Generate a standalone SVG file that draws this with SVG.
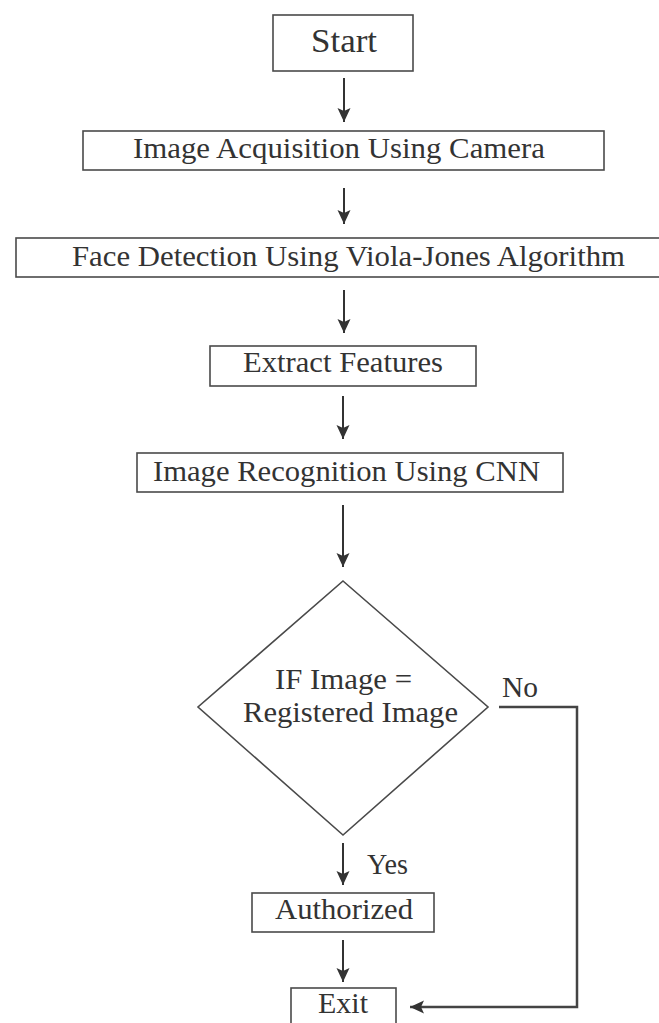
<svg xmlns="http://www.w3.org/2000/svg" width="659" height="1023" viewBox="0 0 659 1023">
<style>
.box{fill:#fff;stroke:#4a4a4a;stroke-width:1.6}
.t{font-family:"Liberation Serif","Times New Roman",Times,serif;font-size:29px;fill:#333}
.ln{stroke:#333;stroke-width:2;fill:none}
.no{stroke:#444;stroke-width:2.5;fill:none}
</style>
<defs>
<marker id="ah" markerUnits="userSpaceOnUse" markerWidth="16" markerHeight="16" refX="14" refY="6.5" orient="auto">
<path d="M0,0 L14,6.5 L0,13 L3,6.5 Z" fill="#333"/>
</marker>
</defs>
<rect width="659" height="1023" fill="#fff"/>
<g id="start">
<rect class="box" x="273" y="15" width="140" height="56"/>
<text class="t" x="311" y="52" style="font-size:33px" textLength="66" lengthAdjust="spacingAndGlyphs">Start</text>
</g>
<g id="acquisition">
<rect class="box" x="83" y="131" width="521" height="39"/>
<text class="t" x="133" y="158" textLength="412" lengthAdjust="spacingAndGlyphs">Image Acquisition Using Camera</text>
</g>
<g id="detection">
<rect class="box" x="16" y="238" width="670" height="39"/>
<text class="t" x="72" y="266" textLength="553" lengthAdjust="spacingAndGlyphs">Face Detection Using Viola-Jones Algorithm</text>
</g>
<g id="extract">
<rect class="box" x="210" y="346" width="266" height="40"/>
<text class="t" x="243" y="372" textLength="200" lengthAdjust="spacingAndGlyphs">Extract Features</text>
</g>
<g id="recognition">
<rect class="box" x="137" y="453" width="426" height="39"/>
<text class="t" x="153" y="481" textLength="387" lengthAdjust="spacingAndGlyphs">Image Recognition Using CNN</text>
</g>
<g id="decision">
<polygon class="box" points="343,581 488,707 343,835 198,707"/>
<text class="t" x="275" y="689" textLength="137" lengthAdjust="spacingAndGlyphs">IF Image =</text>
<text class="t" x="243" y="722" textLength="215" lengthAdjust="spacingAndGlyphs">Registered Image</text>
</g>
<g id="authorized">
<rect class="box" x="252" y="893" width="182" height="39"/>
<text class="t" x="275" y="919" textLength="138" lengthAdjust="spacingAndGlyphs">Authorized</text>
</g>
<g id="exit">
<rect class="box" x="291" y="988" width="105" height="50"/>
<text class="t" x="318" y="1013" textLength="50" lengthAdjust="spacingAndGlyphs">Exit</text>
</g>
<g id="connectors">
<line class="ln" x1="344" y1="78" x2="344" y2="122" marker-end="url(#ah)"/>
<line class="ln" x1="344" y1="188" x2="344" y2="224" marker-end="url(#ah)"/>
<line class="ln" x1="344" y1="290" x2="344" y2="333" marker-end="url(#ah)"/>
<line class="ln" x1="343" y1="396" x2="343" y2="439" marker-end="url(#ah)"/>
<line class="ln" x1="343" y1="505" x2="343" y2="567" marker-end="url(#ah)"/>
<line class="ln" x1="343" y1="843" x2="343" y2="885" marker-end="url(#ah)"/>
<line class="ln" x1="343" y1="940" x2="343" y2="982" marker-end="url(#ah)"/>
<polyline class="no" points="499,707 577,707 577,1007 410,1007" marker-end="url(#ah)"/>
<text class="t" x="502" y="697" textLength="36" lengthAdjust="spacingAndGlyphs">No</text>
<text class="t" x="367" y="874" textLength="41" lengthAdjust="spacingAndGlyphs">Yes</text>
</g>
</svg>
